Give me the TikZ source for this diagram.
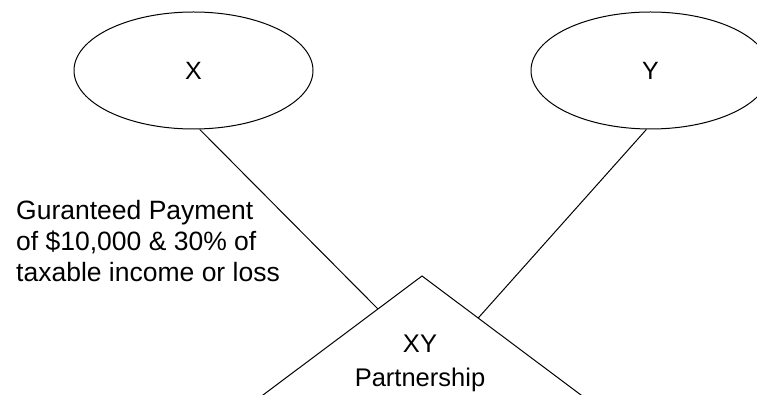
\documentclass[tikz,border=0pt]{standalone}
\usepackage{fontspec}
\setmainfont{Liberation Sans}
\usetikzlibrary{calc,shapes.geometric}
\tikzset{>=stealth,
  party/.style={draw,ellipse,line width=1pt,minimum width=239pt,
    minimum height=117pt,inner sep=0pt,font=\fontsize{25}{30}\selectfont},
  link/.style={line width=1pt}}

\begin{document}
\begin{tikzpicture}[x=1pt,y=-1pt]
\useasboundingbox (0,0) rectangle (757,395);
\clip (0,0) rectangle (757,395);

\node[party] (x) at (193.5,70.5) {X};
\node[party] (y) at (650.5,70.5) {Y};

% partnership triangle, base below the frame
\coordinate (top) at (422,276);
\coordinate (bl) at (229.6,420);
\coordinate (br) at (614.4,420);
\draw[link] (bl) -- (top) -- (br);
\coordinate (xin) at ($(top)!0.229!(bl)$);
\coordinate (yin) at ($(top)!0.292!(br)$);

\node[anchor=north,align=center,inner sep=0pt,
      font=\fontsize{25.5}{34}\selectfont] (xy) at (420,334.5) {XY\\Partnership};
\node[anchor=north west,align=left,inner sep=0pt,
      font=\fontsize{26.5}{31}\selectfont] (terms) at (16,200.5)
      {Guranteed Payment\\of \$10,000 \& 30\% of\\taxable income or loss};

\draw[link] (x.-84) -- (xin);
\draw[link] (y.-94) -- (yin);
\end{tikzpicture}
\end{document}
